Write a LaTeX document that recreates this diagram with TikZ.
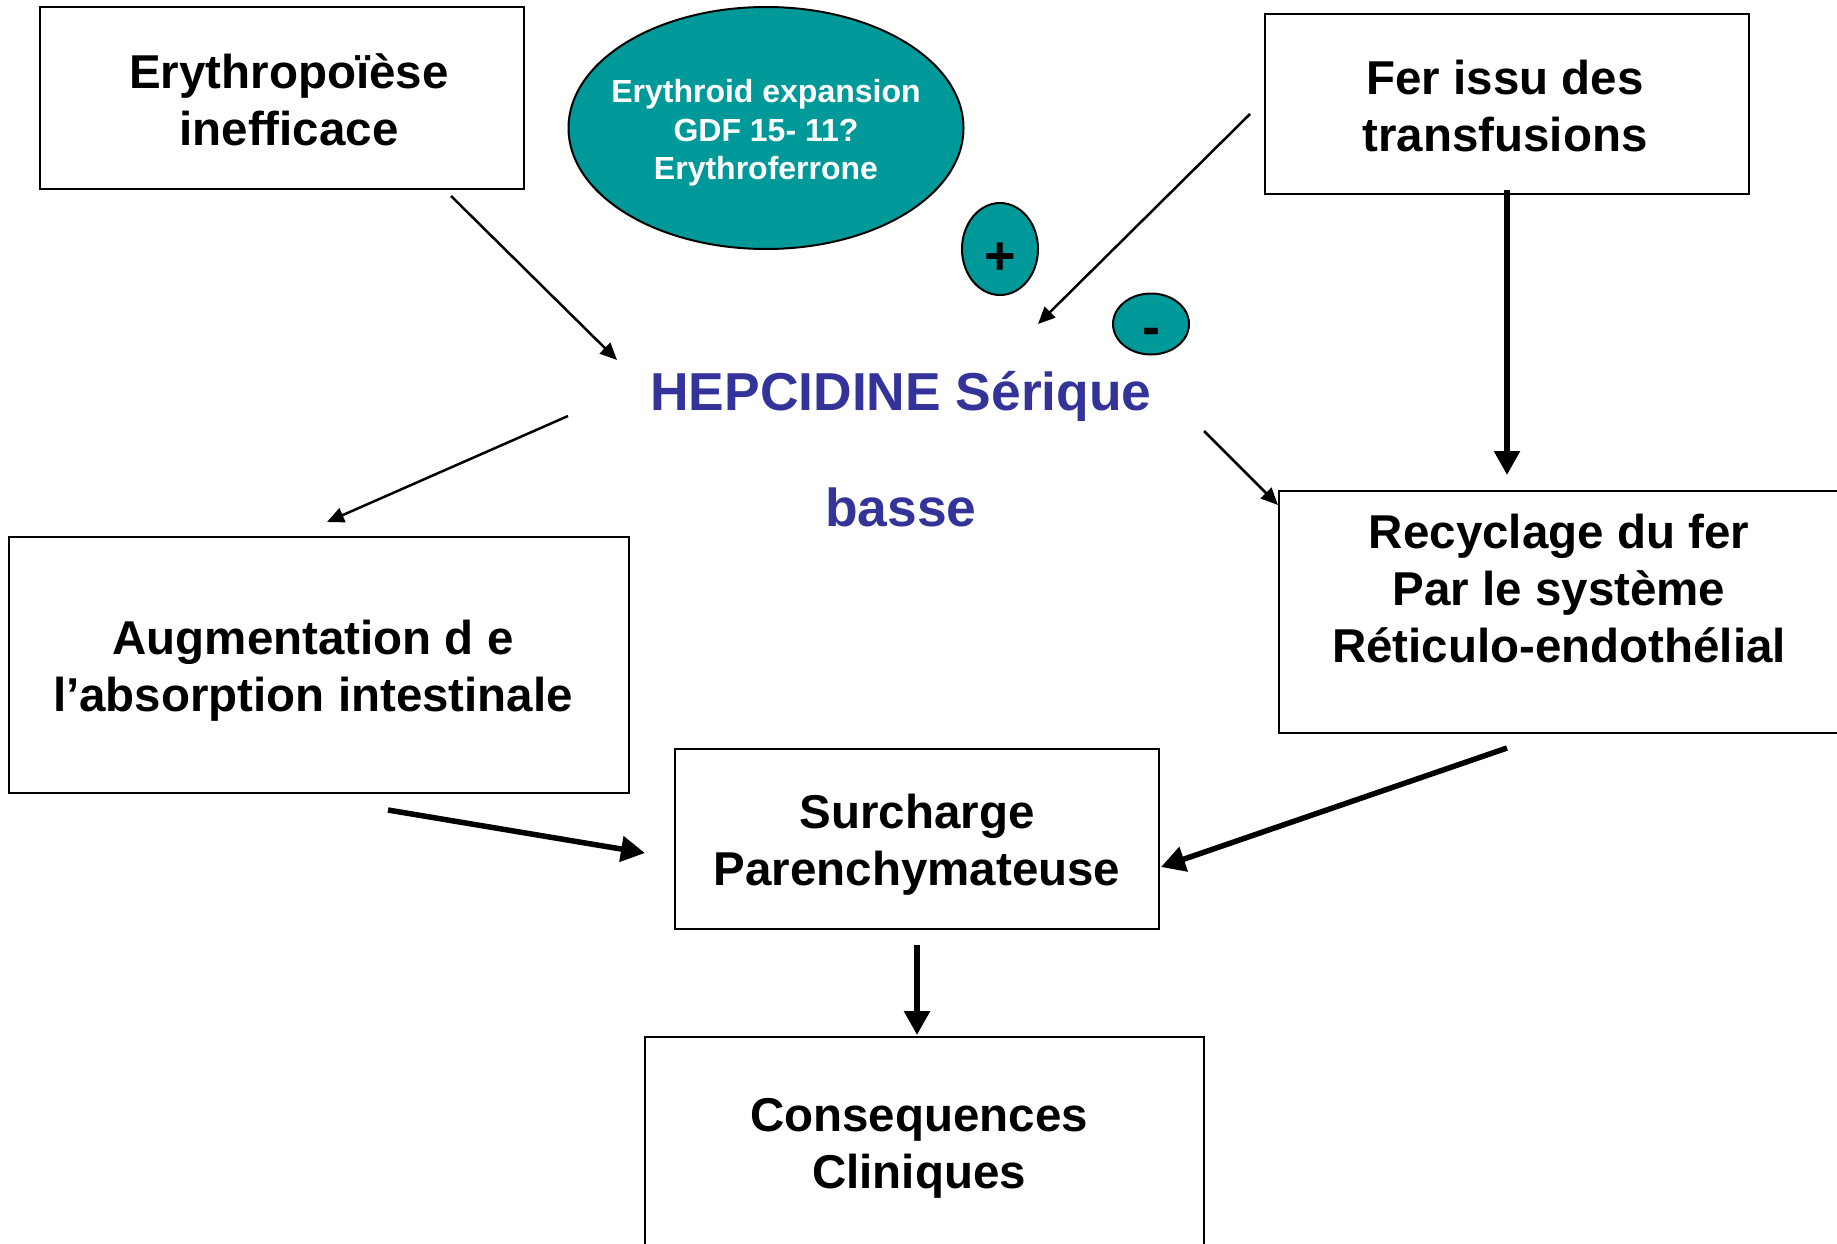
\documentclass[tikz,border=0pt]{standalone}
\usepackage{fontspec}
\setmainfont{Liberation Sans}
\usetikzlibrary{arrows.meta,shapes.geometric}
\definecolor{teal1}{RGB}{0,153,153}
\definecolor{hepblue}{RGB}{51,51,153}
\begin{document}
\begin{tikzpicture}[x=1pt,y=-1pt,
  box/.style={draw, line width=2pt, inner sep=0pt},
  lbl/.style={font=\bfseries\fontsize{47.5}{57}\selectfont, align=center, inner sep=0pt},
  bub/.style={draw, line width=2pt, fill=teal1, ellipse, inner sep=0pt},
  sign/.style={font=\bfseries\fontsize{54}{54}\selectfont, anchor=base, inner sep=0pt},
  thinarrow/.style={line width=2.5pt, -{Triangle[length=17pt,width=15pt]}},
  thickarrow/.style={line width=5.5pt, -{Triangle[length=24pt,width=25pt]}}]
\useasboundingbox (0,0) rectangle (1837,1244);
\clip (0,0) rectangle (1837,1244);
\fill[white] (0,0) rectangle (1837,1244);
% boxes
\node[box, minimum width=484pt, minimum height=182pt] (ery) at (282,98) {};
\node[box, minimum width=484pt, minimum height=180pt] (fer) at (1507,104) {};
\node[box, minimum width=562pt, minimum height=242pt] (rec) at (1560,612) {};
\node[box, minimum width=620pt, minimum height=256pt] (aug) at (319,665) {};
\node[box, minimum width=484pt, minimum height=180pt] (sur) at (917,839) {};
\node[box, minimum width=559pt, minimum height=230pt] (con) at (924.5,1152) {};
% box texts
\node[lbl] (eryt) at (289,100) {Erythropoïèse\\inefficace};
\node[lbl] (fert) at (1505,106) {Fer issu des\\transfusions};
\node[lbl] (rect) at (1559,589) {Recyclage du fer\\Par le système\\Réticulo-endothélial};
\node[lbl] (augt) at (313,671) {Augmentation d e\\l’absorption intestinale};
\node[lbl] (surt) at (917,845) {Surcharge\\Parenchymateuse};
\node[lbl] (cont) at (919,1148) {Consequences\\Cliniques};
% ellipses
\node[bub, minimum width=395pt, minimum height=242pt] (ell) at (766,128) {};
\node[font=\bfseries\fontsize{32}{38.5}\selectfont, text=white, align=center, inner sep=0pt] (ellt) at (766,133) {Erythroid expansion\\GDF 15- 11?\\Erythroferrone};
\node[bub, minimum width=76pt, minimum height=92pt] (plus) at (1000,249) {};
\node[sign] (plust) at (1000,274) {+};
\node[bub, minimum width=76pt, minimum height=61pt] (minus) at (1151,324) {};
\node[sign] (minust) at (1151,345) {-};
% hepcidine
\node[font=\bfseries\fontsize{53.4}{116}\selectfont, text=hepblue, align=center, inner sep=0pt] (hep) at (901,449) {HEPCIDINE Sérique\\basse};
% connector ends
\coordinate (a1) at (451,196); \coordinate (a2) at (617,360);
\coordinate (b1) at (1250,114); \coordinate (b2) at (1038,324);
\coordinate (c1) at (568,416); \coordinate (c2) at (327,522);
\coordinate (d1) at (1204,431); \coordinate (d2) at (1278,505);
\coordinate (e1) at (1507,190); \coordinate (e2) at (1507,475);
\coordinate (f1) at (388,810); \coordinate (f2) at (645,853);
\coordinate (g1) at (1507,748); \coordinate (g2) at (1161,867);
\coordinate (h1) at (917,945); \coordinate (h2) at (917,1035);
% connectors
\draw[thinarrow] (a1) -- (a2);
\draw[thinarrow] (b1) -- (b2);
\draw[thinarrow] (c1) -- (c2);
\draw[thinarrow] (d1) -- (d2);
\draw[thickarrow] (e1) -- (e2);
\draw[thickarrow] (f1) -- (f2);
\draw[thickarrow] (g1) -- (g2);
\draw[thickarrow] (h1) -- (h2);
\end{tikzpicture}
\end{document}
